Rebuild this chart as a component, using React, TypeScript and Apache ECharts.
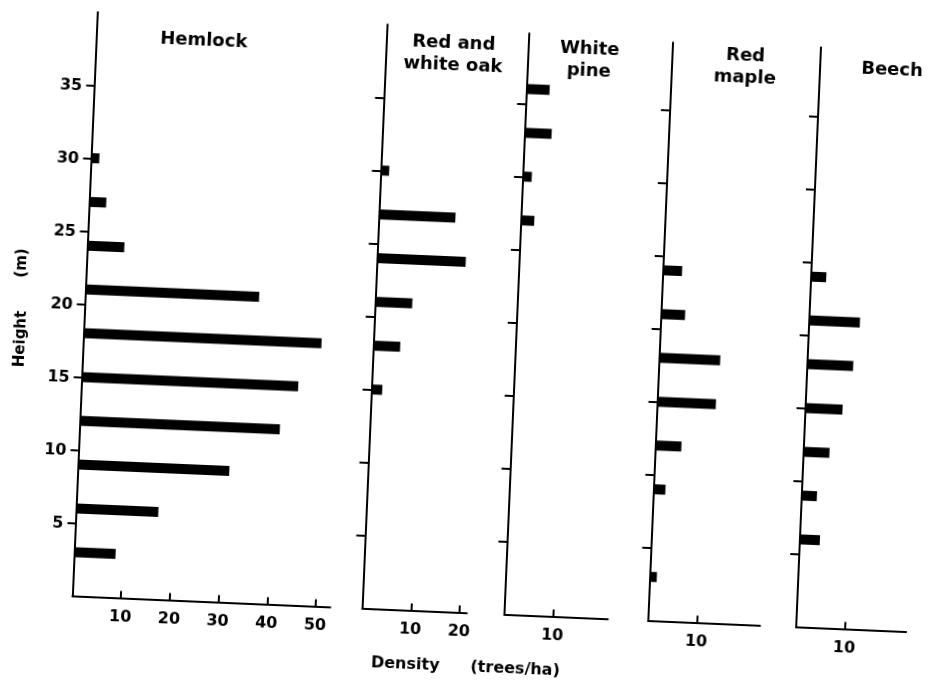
import React, { useEffect, useRef } from "react";
import * as echarts from "echarts";

// Height classes (m) and stem densities (trees/ha) for each species
const hemlockHeight = [3, 6, 9, 12, 15, 18, 21, 24, 27, 30];
const hemlockDensity = [8.5, 16.9, 31.1, 41.1, 44.5, 48.9, 35.7, 7.6, 3.5, 1.7];

const oakHeight = [15, 18, 21, 24, 27, 30];
const oakDensity = [2.2, 5.5, 7.6, 18.2, 15.7, 1.7];

const pineHeight = [27, 30, 33, 36];
const pineDensity = [2.7, 1.8, 5.5, 4.7];

const mapleHeight = [3, 9, 12, 15, 18, 21, 24];
const mapleDensity = [1.4, 2.4, 5.3, 12.0, 12.5, 4.9, 3.9];

const beechHeight = [6, 9, 12, 15, 18, 21, 24];
const beechDensity = [4.1, 3.1, 5.3, 7.6, 9.4, 10.4, 3.1];

// Tick labels
const heightTicks = [5, 10, 15, 20, 25, 30, 35];
const hemlockDensityTicks = [10, 20, 30, 40, 50];
const oakDensityTicks = [10, 20];
const narrowDensityTicks = [10];

const FONT = '"DejaVu Sans", "Liberation Sans", Arial, sans-serif';
const Y_PX = 14.61; // pixels per metre of height
const X_PX = 4.87; // pixels per tree/ha
const BASE = 612.6; // zero-height line
const BAR_PX = 10;

type Panel = {
  title: string;
  tx: number;
  ty: number;
  left: number;
  xMax: number;
  yMax: number;
  xTicks: number[];
  heights: number[];
  density: number[];
  yLabels: boolean;
};

const panels: Panel[] = [
  { title: "Hemlock", tx: 191, ty: 50, left: 83.5, xMax: 53, yMax: 40, xTicks: hemlockDensityTicks, heights: hemlockHeight, density: hemlockDensity, yLabels: true },
  { title: "Red and\nwhite oak", tx: 441, ty: 53, left: 373.6, xMax: 21.5, yMax: 40, xTicks: oakDensityTicks, heights: oakHeight, density: oakDensity, yLabels: false },
  { title: "White\npine", tx: 577, ty: 53, left: 515.8, xMax: 21.3, yMax: 39.8, xTicks: narrowDensityTicks, heights: pineHeight, density: pineDensity, yLabels: false },
  { title: "Red\nmaple", tx: 733, ty: 53, left: 659.8, xMax: 23, yMax: 39.6, xTicks: narrowDensityTicks, heights: mapleHeight, density: mapleDensity, yLabels: false },
  { title: "Beech", tx: 880, ty: 50, left: 808, xMax: 22.6, yMax: 39.7, xTicks: narrowDensityTicks, heights: beechHeight, density: beechDensity, yLabels: false },
];

const labelStyle = { color: "#000", fontSize: 16, fontWeight: "bold" as const, fontFamily: FONT };
const lineStyle = { color: "#000", width: 2 };

function textEl(text: string, x: number, y: number, size: number, rotation = 0, lineHeight = 22) {
  return {
    type: "text",
    x,
    y,
    rotation,
    silent: true,
    style: {
      text,
      fill: "#000",
      fontSize: size,
      fontWeight: "bold",
      fontFamily: FONT,
      align: "center",
      verticalAlign: "middle",
      textAlign: "center",
      textVerticalAlign: "middle",
      lineHeight,
    },
  };
}

export default function App() {
  const ref = useRef<HTMLDivElement>(null);

  useEffect(() => {
    if (!ref.current) return;
    const chart = echarts.init(ref.current, null, { renderer: "svg" });

    const option: any = {
      animation: false,
      backgroundColor: "#fff",
      grid: panels.map((p) => ({
        left: p.left,
        top: BASE - p.yMax * Y_PX,
        width: p.xMax * X_PX,
        height: p.yMax * Y_PX,
        containLabel: false,
      })),
      xAxis: panels.map((p, i) => ({
        type: "value",
        gridIndex: i,
        min: 0,
        max: p.xMax,
        axisLine: { show: true, onZero: false, lineStyle },
        axisTick: { show: true, inside: true, length: 7, customValues: p.xTicks, lineStyle },
        axisLabel: { show: true, customValues: p.xTicks, margin: 10, ...labelStyle },
        splitLine: { show: false },
      })),
      yAxis: panels.map((p, i) => ({
        type: "value",
        gridIndex: i,
        min: 0,
        max: p.yMax,
        axisLine: { show: true, onZero: false, lineStyle },
        axisTick: { show: true, inside: false, length: i === 0 ? 8 : 9, customValues: heightTicks, lineStyle },
        axisLabel: { show: p.yLabels, customValues: heightTicks, margin: 12, ...labelStyle },
        splitLine: { show: false },
      })),
      series: panels.map((p, i) => ({
        type: "custom",
        name: p.title.replace("\n", " "),
        xAxisIndex: i,
        yAxisIndex: i,
        encode: { x: 0, y: 1 },
        data: p.heights.map((h, k) => [p.density[k], h]),
        renderItem: (_params: any, api: any) => {
          const v = api.value(0);
          const h = api.value(1);
          const start = api.coord([0, h]);
          const end = api.coord([v, h]);
          return {
            type: "rect",
            shape: { x: start[0], y: start[1] - BAR_PX / 2, width: end[0] - start[0], height: BAR_PX },
            style: { fill: "#000" },
          };
        },
      })),
      graphic: [
        ...panels.map((p) => textEl(p.title, p.tx, p.ty, 18)),
        textEl("Height", 20, 358, 15, Math.PI / 2),
        textEl("(m)", 18, 282, 15, Math.PI / 2),
        textEl("Density", 419, 665, 16),
        textEl("(trees/ha)", 529, 665, 16),
      ],
    };

    chart.setOption(option);
    return () => chart.dispose();
  }, []);

  return (
    <div
      ref={ref}
      style={{
        position: "fixed",
        left: 0,
        top: 0,
        width: 933,
        height: 687,
        background: "#fff",
        transform: "rotate(2.45deg)",
        transformOrigin: "50% 50%",
      }}
    />
  );
}
